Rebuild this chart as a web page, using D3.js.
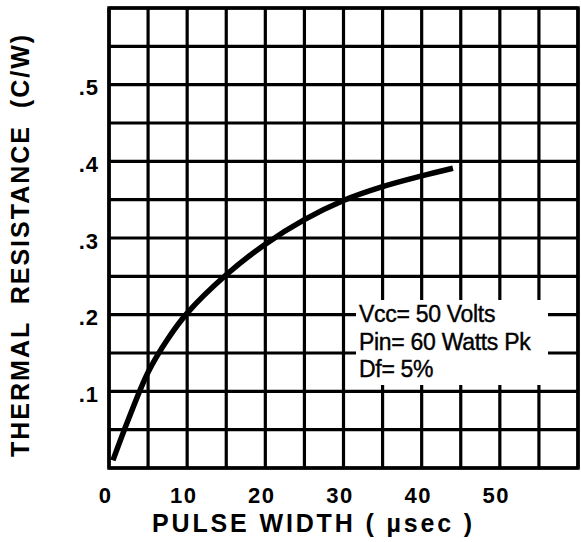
<!DOCTYPE html>
<html>
<head>
<meta charset="utf-8">
<script src="https://cdn.jsdelivr.net/npm/d3@7"></script>
<style>
  html, body { margin: 0; padding: 0; background: #fff; }
  svg { display: block; }
</style>
</head>
<body>
<svg id="chart" width="581" height="542"></svg>
<script>
// ---- data ----
const pulseWidth = [0.5, 2.5, 5, 7.5, 10, 15, 20, 25, 30, 35, 40, 44];          // µsec
const thermalRes = [0.01, 0.064, 0.125, 0.168, 0.202, 0.252, 0.292, 0.324, 0.349, 0.367, 0.381, 0.391]; // C/W
const xTickValues = [0, 10, 20, 30, 40, 50];
const yTickValues = [0.1, 0.2, 0.3, 0.4, 0.5];
const xGridValues = d3.range(0, 60.001, 5);
const yGridValues = d3.range(0, 0.6001, 0.05);
const notes = ["Vcc= 50 Volts", "Pin= 60 Watts Pk", "Df= 5%"];
const xTitle = "PULSE  WIDTH  (  \u00b5sec  )";
const yTitle = "THERMAL RESISTANCE (C/W)";

// ---- layout ----
const svg = d3.select("#chart");
const L = 109, R = 578, T = 8, B = 468;
const x = d3.scaleLinear().domain([0, 60]).range([L, R]);
const y = d3.scaleLinear().domain([0, 0.6]).range([B, T]);
const FONT = "Liberation Sans, Arial, Helvetica, sans-serif";

const grid = svg.append("g").attr("stroke", "#000").attr("stroke-width", 3.2);
grid.selectAll("line.v").data(xGridValues).join("line")
  .attr("x1", d => x(d)).attr("x2", d => x(d))
  .attr("y1", T).attr("y2", B);
grid.selectAll("line.h").data(yGridValues).join("line")
  .attr("x1", L).attr("x2", R)
  .attr("y1", d => y(d)).attr("y2", d => y(d));
svg.append("rect").attr("x", L).attr("y", T).attr("width", R - L).attr("height", B - T)
  .attr("fill", "none").attr("stroke", "#000").attr("stroke-width", 3.5);

// annotation box (white knock-out)
svg.append("rect").attr("x", 356).attr("y", 300).attr("width", 192).attr("height", 85)
  .attr("fill", "#fff");

// curve
const pts = pulseWidth.map((d, i) => [d, thermalRes[i]]);
svg.append("path").datum(pts)
  .attr("fill", "none").attr("stroke", "#000").attr("stroke-width", 5.5)
  .attr("d", d3.line().x(d => x(d[0])).y(d => y(d[1])).curve(d3.curveCatmullRom.alpha(0.5)));

// annotation text
svg.append("g").selectAll("text").data(notes).join("text")
  .attr("x", 359).attr("y", (d, i) => 322 + i * 27.5)
  .attr("font-family", FONT)
  .attr("font-size", 23).attr("fill", "#000")
  .attr("stroke", "#000").attr("stroke-width", 0.4)
  .style("letter-spacing", "-0.3px")
  .text(d => d);

// tick labels
const xAxis = d3.axisBottom(x).tickValues(xTickValues).tickSize(0).tickPadding(0)
  .tickFormat(d3.format("d"));
const gx = svg.append("g").attr("transform", `translate(-4, ${B + 35})`).call(xAxis);
gx.select(".domain").remove();
gx.selectAll("text").attr("font-family", FONT)
  .attr("font-size", 22).attr("font-weight", "bold").attr("fill", "#000")
  .attr("dy", 0).style("letter-spacing", "1.5px");

const yAxis = d3.axisLeft(y).tickValues(yTickValues).tickSize(0).tickPadding(0)
  .tickFormat(d => d3.format(".1f")(d).replace(/^0/, ""));
const gy = svg.append("g").attr("transform", `translate(99, 3)`).call(yAxis);
gy.select(".domain").remove();
gy.selectAll("text").attr("font-family", FONT)
  .attr("font-size", 22).attr("font-weight", "bold").attr("fill", "#000")
  .style("letter-spacing", "1px");

// axis titles
svg.append("text").attr("x", 152).attr("y", 532)
  .attr("font-family", FONT)
  .attr("font-size", 25).attr("font-weight", "bold").attr("fill", "#000")
  .attr("textLength", 320).attr("lengthAdjust", "spacing")
  .text(xTitle);

svg.append("text").attr("transform", "translate(29, 457) rotate(-90)")
  .attr("x", 0).attr("y", 0)
  .attr("font-family", FONT)
  .attr("font-size", 25).attr("font-weight", "bold").attr("fill", "#000")
  .style("letter-spacing", "2px").style("word-spacing", "8px")
  .text(yTitle);
</script>
</body>
</html>
